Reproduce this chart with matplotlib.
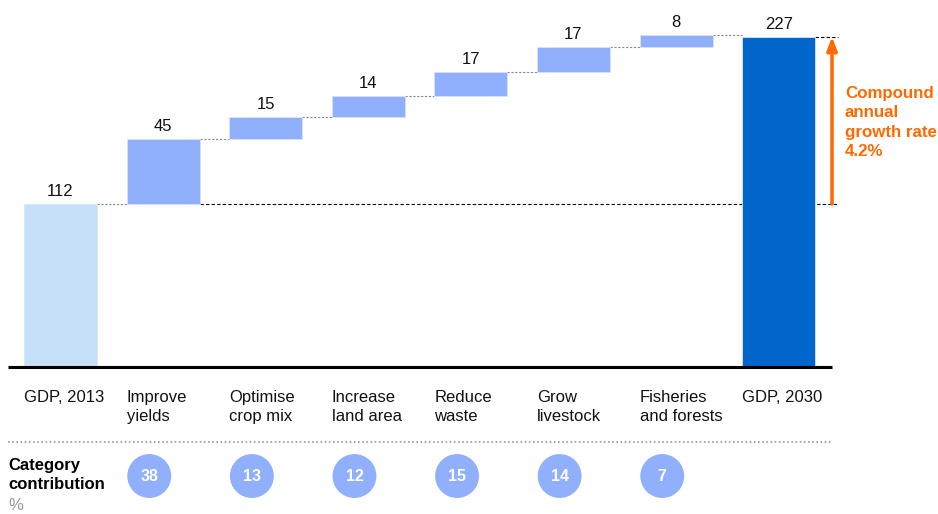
"""
Waterfall of agricultural GDP growth drivers, 2013 to 2030.
"""

import matplotlib
import matplotlib.pyplot as plt

matplotlib.use('Agg')
plt.rcParams['font.family'] = ['Liberation Sans', 'DejaVu Sans']

# Chart data
categories = ["GDP, 2013", "Improve\nyields", "Optimise\ncrop mix", "Increase\nland area",
              "Reduce\nwaste", "Grow\nlivestock", "Fisheries\nand forests", "GDP, 2030"]
values = [112, 45, 15, 14, 17, 17, 8, 227]
contribution = [38, 13, 12, 15, 14, 7]
cagr_label = "Compound\nannual\ngrowth rate\n4.2%"

# Colours
start_color = '#C6E0FA'
step_color = '#90AFFD'
total_color = '#0066CC'
orange = '#FF6A00'

fig = plt.figure(figsize=(9.38, 5.14), dpi=100)
ax = fig.add_axes([0, 0, 1, 1])
ax.set_xlim(-0.59, 8.553)
ax.set_ylim(-101, 252.2)
ax.axis('off')

width = 0.71
n = len(values)

# Bar bottoms: start and total sit on zero, steps float on the running sum
bottoms = [0]
running = values[0]
for v in values[1:-1]:
    bottoms.append(running)
    running += v
bottoms.append(0)

colors = [start_color] + [step_color] * (n - 2) + [total_color]
ax.bar(range(n), values, width=width, bottom=bottoms, color=colors,
       edgecolor='#D6E4FF', linewidth=0.6, zorder=3)

# Value labels above bars
for i, (v, b) in enumerate(zip(values, bottoms)):
    ax.annotate(f'{v}', xy=(i, b + v), xytext=(0, 3.5), textcoords='offset points',
                ha='center', va='bottom', fontsize=12, color='#111111')

# Grey connectors between consecutive bars
tops = [b + v for b, v in zip(bottoms, values)]
for i in range(n - 1):
    ax.plot([i + width / 2, i + 1 - width / 2], [tops[i], tops[i]],
            color='#888888', linestyle=(0, (2, 1.5)), linewidth=0.8, zorder=2)

# Reference lines for start and end levels
arrow_x = 7.52
ax.plot([1 + width / 2, arrow_x + 0.06], [values[0], values[0]],
        color='black', linestyle=(0, (3, 2)), linewidth=0.8, zorder=2)
ax.plot([n - 1 + width / 2, arrow_x + 0.06], [values[-1], values[-1]],
        color='black', linestyle=(0, (3, 2)), linewidth=0.8, zorder=2)

# Growth arrow
ax.annotate('', xy=(arrow_x, values[-1]), xytext=(arrow_x, values[0]),
            arrowprops=dict(arrowstyle='-|>,head_width=0.3,head_length=0.8',
                            color=orange, linewidth=2.5, shrinkA=0, shrinkB=0))
ax.text(7.646, 168.0, cagr_label, ha='left', va='center', fontsize=12.2,
        fontweight='bold', color=orange, linespacing=1.38)

# Baseline
ax.plot([-0.512, 7.52], [0, 0], color='black', linewidth=2.2, zorder=4,
        solid_capstyle='butt')

# Category labels, left-aligned with bars
for i, label in enumerate(categories):
    ax.text(i - width / 2, -15.5, label, ha='left', va='top', fontsize=12,
            color='#111111', linespacing=1.38)

# Dotted separator
ax.plot([-0.512, 7.52], [-51.5, -51.5], color='#999999', linestyle=(0, (1, 1.5)),
        linewidth=1.2)

# Contribution row
ax.text(-0.512, -74.2, "Category\ncontribution", ha='left', va='center',
        fontsize=12, fontweight='bold', color='black', linespacing=1.32)
ax.text(-0.512, -95.5, "%", ha='left', va='center', fontsize=12, color='#999999')

circle_x = [i - width / 2 + 0.22 for i in range(1, 1 + len(contribution))]
ax.scatter(circle_x, [-74.9] * len(contribution), s=1000, color=step_color,
           edgecolors='none', zorder=3)
for x, c in zip(circle_x, contribution):
    ax.text(x, -74.9, f'{c}', ha='center', va='center', fontsize=11.5,
            fontweight='bold', color='white', zorder=4)

plt.savefig('out.png', dpi=100)
plt.close()
